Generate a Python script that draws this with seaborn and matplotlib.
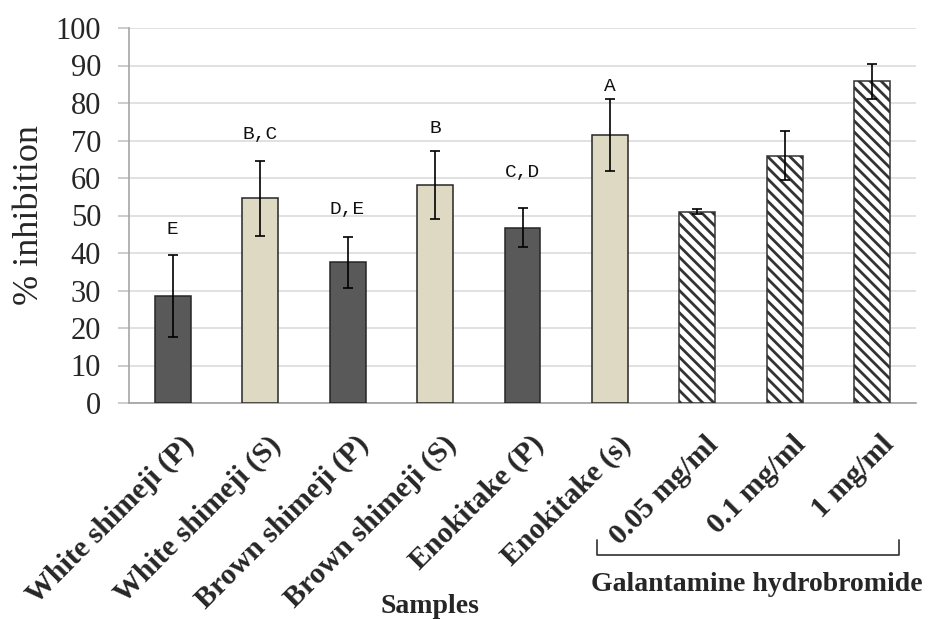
import matplotlib
matplotlib.use("Agg")
import matplotlib.pyplot as plt
import matplotlib.transforms as mtransforms
import seaborn as sns
import pandas as pd
import numpy as np

# ---- data ----
categories = ["White shimeji (P)", "White shimeji (S)", "Brown shimeji (P)",
              "Brown shimeji (S)", "Enokitake (P)", "Enokitake (s)",
              "0.05 mg/ml", "0.1 mg/ml", "1 mg/ml"]
groups = ["P", "S", "P", "S", "P", "S", "G", "G", "G"]
values = [28.6, 54.6, 37.5, 58.2, 46.8, 71.5, 51.0, 66.0, 85.8]
errors = [11.0, 10.0, 6.9, 9.0, 5.3, 9.5, 0.7, 6.5, 4.7]
letters = ["E", "B,C", "D,E", "B", "C,D", "A", "", "", ""]
letter_y = [46.2, 71.5, 51.5, 73.1, 61.4, 84.3, None, None, None]
yticks = list(range(0, 101, 10))
group_label = "Galantamine hydrobromide"
x_label = "Samples"
y_label = "% inhibition"

df = pd.DataFrame({"sample": categories, "group": groups, "value": values})

sns.set_style("white")
plt.rcParams["font.family"] = ["Liberation Serif", "DejaVu Serif"]
plt.rcParams["hatch.linewidth"] = 2.0

fig = plt.figure(figsize=(9.33, 6.19), dpi=100)
ax = fig.add_axes([129 / 933, 1 - 403 / 619, 787 / 933, 375 / 619])

palette = {"P": "#595959", "S": "#DDD9C3", "G": "#FFFFFF"}
sns.barplot(data=df, x="sample", y="value", hue="group", order=categories,
            hue_order=["P", "S", "G"], palette=palette, dodge=False,
            width=0.41, legend=False, edgecolor="#262626", linewidth=1.1,
            saturation=1, errorbar=None, ax=ax, zorder=3)

for container, g in zip(ax.containers, ["P", "S", "G"]):
    if g == "G":
        for bar in container:
            bar.set_hatch("\\\\\\")
            bar.set_edgecolor("#333333")

xpos = np.arange(len(categories))
ax.errorbar(xpos, values, yerr=errors, fmt="none", ecolor="black",
            elinewidth=1.2, capsize=3.6, capthick=1.2, zorder=4)

for i, (t, yv) in enumerate(zip(letters, letter_y)):
    if t:
        ax.text(i, yv, t, ha="center", va="center", fontsize=14,
                family=["Liberation Mono", "DejaVu Sans Mono"], color="#111111")

ax.set_ylim(0, 100)
ax.set_xlim(-0.5, len(categories) - 0.5)
ax.set_yticks(yticks)
ax.set_yticklabels([str(v) for v in yticks], fontsize=22)
ax.yaxis.grid(True, color="#d9d9d9", linewidth=1.1, zorder=0)
ax.set_axisbelow(True)
for s in ["top", "right"]:
    ax.spines[s].set_visible(False)
ax.spines["left"].set_color("#a6a6a6")
ax.spines["bottom"].set_color("#a0a0a0")
ax.spines["left"].set_linewidth(1.2)
ax.spines["bottom"].set_linewidth(1.2)
ax.tick_params(axis="y", direction="out", length=8, width=1.1, color="#bfbfbf",
               pad=12, left=True)
ax.tick_params(axis="x", length=0, pad=27)

ax.set_xticks(xpos)
ax.set_xticklabels(categories, fontsize=21.5, fontweight="bold", rotation=45,
                   ha="right", va="center", rotation_mode="anchor")
offset = mtransforms.ScaledTranslation(17 / 100, 0, fig.dpi_scale_trans)
for lab in ax.get_xticklabels():
    lab.set_transform(lab.get_transform() + offset)

ax.set_xlabel("")
ax.set_ylabel(y_label, fontsize=26)
ax.yaxis.set_label_coords(-0.105, 0.5)

trans = ax.get_xaxis_transform()
bx0, bx1 = 4.855, 8.31
ax.plot([bx0, bx0, bx1, bx1], [-0.365, -0.405, -0.405, -0.365], color="#404040",
        lw=1.3, transform=trans, clip_on=False)
ax.text(6.674, -0.501, group_label, transform=trans, ha="center", va="baseline",
        fontsize=20, fontweight="bold")
ax.text(2.944, -0.56, x_label, transform=trans, ha="center", va="baseline",
        fontsize=20, fontweight="bold")

fig.savefig("out.png", dpi=100)
